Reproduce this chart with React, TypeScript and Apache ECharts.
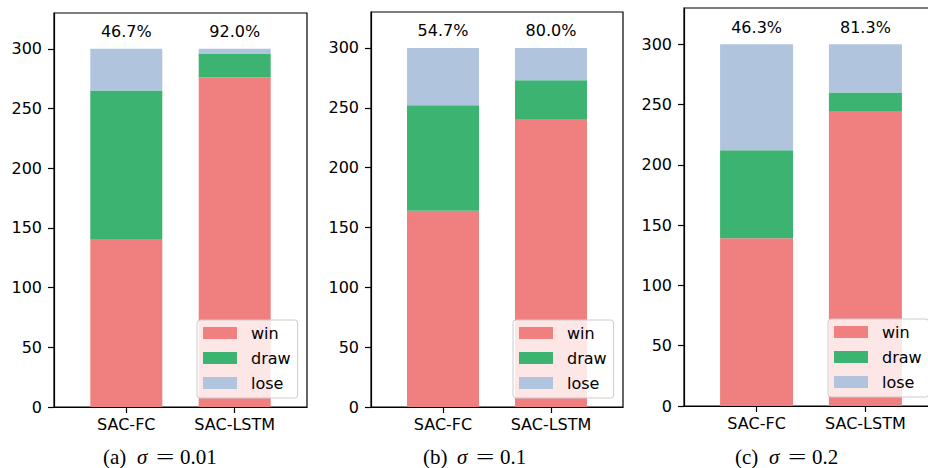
import React, { useEffect, useRef } from 'react';
import * as echarts from 'echarts';

const categories = ['SAC-FC', 'SAC-LSTM'];
const seriesNames = ['win', 'draw', 'lose'];

const winA = [140, 276];
const drawA = [125, 20];
const loseA = [35, 4];

const winB = [164, 240];
const drawB = [88, 33];
const loseB = [48, 27];

const winC = [139, 244];
const drawC = [73, 16];
const loseC = [88, 40];

const yTicks = [0, 50, 100, 150, 200, 250, 300];
const yMax = 330;
const captionLetters = ['(a)', '(b)', '(c)'];
const sigmaValues = ['0.01', '0.1', '0.2'];

const panelsData = [
  [winA, drawA, loseA],
  [winB, drawB, loseB],
  [winC, drawC, loseC],
];

const colors = ['#F08080', '#3CB371', '#B0C4DE'];

const layouts = [
  { left: 54, top: 13, width: 253, height: 394, barWidth: 72, legendLeft: 197, legendTop: 320, capX: 103 },
  { left: 371, top: 12, width: 252, height: 395, barWidth: 72, legendLeft: 513, legendTop: 320, capX: 423 },
  { left: 684, top: 8, width: 254, height: 398, barWidth: 73, legendLeft: 828, legendTop: 319, capX: 735 },
];

const FONT = 'DejaVu Sans';
const SERIF = 'Liberation Serif';

export default function App() {
  const ref = useRef<HTMLDivElement>(null);
  useEffect(() => {
    if (!ref.current) return;
    const chart = echarts.init(ref.current, undefined, { renderer: 'svg' });
    const axisLine = { show: true, onZero: false, lineStyle: { color: '#000', width: 1.2 } };
    const grids = layouts.map((l) => ({
      left: l.left,
      top: l.top,
      width: l.width,
      height: l.height,
      show: true,
      borderColor: '#000',
      borderWidth: 1.2,
      backgroundColor: 'transparent',
      containLabel: false,
      outerBoundsMode: 'none',
    }));
    const xAxes = layouts.map((l, i) => ({
      gridIndex: i,
      type: 'value',
      min: -0.667,
      max: 1.667,
      axisLine,
      splitLine: { show: false },
      axisTick: { show: true, customValues: [0, 1], length: 6, lineStyle: { color: '#000', width: 1.2 } },
      axisLabel: {
        customValues: [0, 1],
        formatter: (v: number) => categories[Math.round(v)] ?? '',
        fontSize: 16,
        fontFamily: FONT,
        color: '#000',
        margin: 9,
      },
    }));
    const yAxes = layouts.map((l, i) => ({
      gridIndex: i,
      type: 'value',
      min: 0,
      max: yMax,
      axisLine,
      splitLine: { show: false },
      axisTick: { show: true, customValues: yTicks, length: 6, lineStyle: { color: '#000', width: 1.2 } },
      axisLabel: {
        customValues: yTicks,
        fontSize: 16,
        fontFamily: FONT,
        color: '#000',
        margin: 12,
      },
    }));
    const series: any[] = [];
    panelsData.forEach((arrs, i) => {
      const total = arrs[0].map((_, k) => arrs[0][k] + arrs[1][k] + arrs[2][k]);
      arrs.forEach((arr, j) => {
        series.push({
          type: 'bar',
          name: seriesNames[j],
          xAxisIndex: i,
          yAxisIndex: i,
          stack: 's' + i,
          barWidth: layouts[i].barWidth,
          // value first so that the stack is computed on the y dimension
          data: arr.map((v, k) => [v, k]),
          encode: { x: 1, y: 0 },
          itemStyle: { color: colors[j] },
          emphasis: { disabled: true },
          label:
            j === 2
              ? {
                  show: true,
                  position: 'top',
                  distance: 9,
                  fontSize: 16,
                  fontFamily: FONT,
                  color: '#000',
                  formatter: (p: any) => ((arrs[0][p.dataIndex] / total[p.dataIndex]) * 100).toFixed(1) + '%',
                }
              : { show: false },
        });
      });
    });
    const legends = layouts.map((l) => ({
      left: l.legendLeft,
      top: l.legendTop,
      orient: 'vertical',
      data: seriesNames,
      icon: 'rect',
      itemWidth: 34,
      itemHeight: 12,
      itemGap: 9,
      padding: [5, 7, 7, 6],
      backgroundColor: 'rgba(255,255,255,0.8)',
      borderColor: '#cccccc',
      borderWidth: 1,
      borderRadius: 3,
      selectedMode: false,
      textStyle: { fontSize: 16, fontFamily: FONT, color: '#000', padding: [0, 0, 0, 9] },
    }));
    const capStyle = { fontFamily: SERIF, fontSize: 21, fill: '#000', verticalAlign: 'middle', align: 'left' };
    const graphic = layouts.map((l, i) => ({
      type: 'group',
      x: l.capX,
      y: 457,
      children: [
        { type: 'text', x: 0, y: 0, style: { ...capStyle, text: captionLetters[i] } },
        { type: 'text', x: 34, y: 0, style: { ...capStyle, fontStyle: 'italic', text: 'σ' } },
        { type: 'text', x: 53, y: 0, scaleX: 1.55, style: { ...capStyle, text: '=' } },
        { type: 'text', x: 77, y: 0, style: { ...capStyle, text: sigmaValues[i] } },
      ],
    }));
    chart.setOption({
      animation: false,
      backgroundColor: '#fff',
      grid: grids,
      xAxis: xAxes,
      yAxis: yAxes,
      series,
      legend: legends,
      graphic,
    } as any);
    return () => chart.dispose();
  }, []);
  return (
    <div
      ref={ref}
      style={{ position: 'fixed', left: 0, top: 0, width: 928, height: 468, background: '#fff' }}
    />
  );
}
